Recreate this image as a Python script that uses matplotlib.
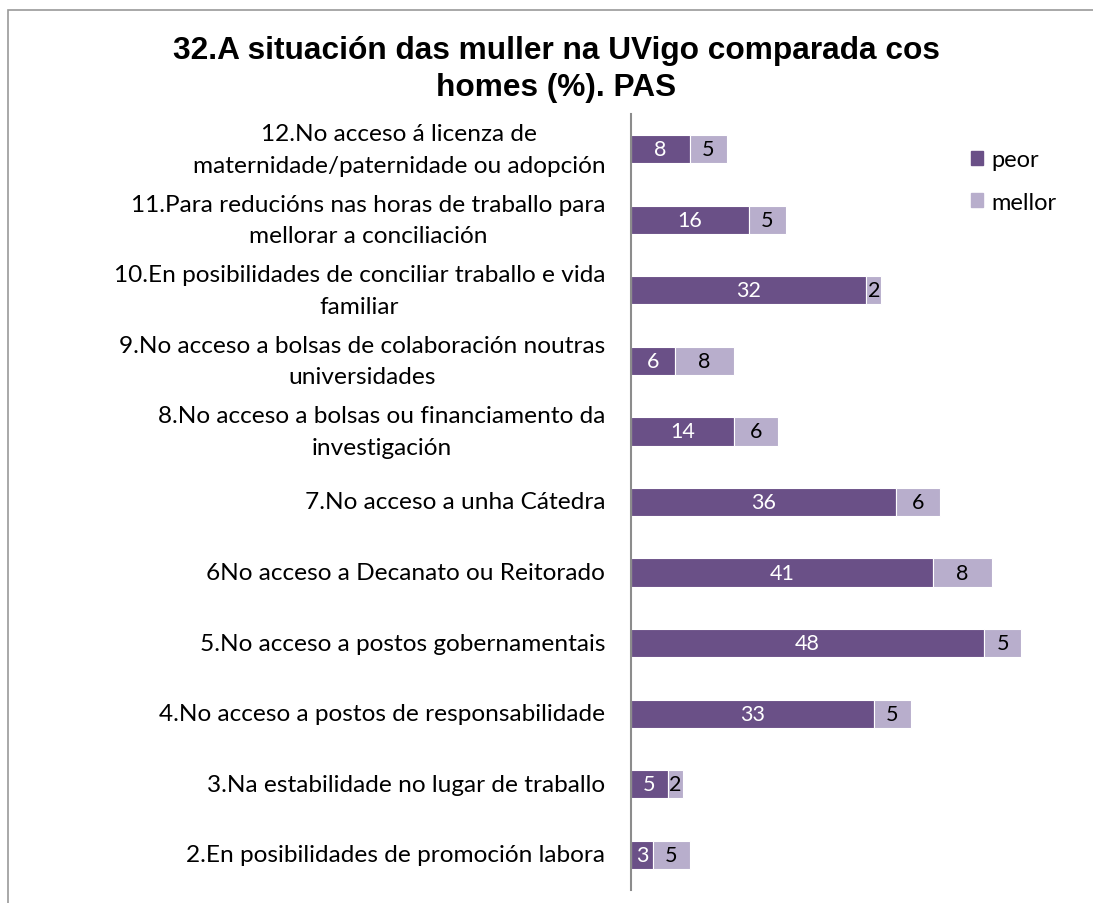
import matplotlib
matplotlib.use('Agg')
import matplotlib.pyplot as plt
from matplotlib.patches import Rectangle, Patch
import numpy as np

# categories, bottom to top
labels = ['2.En posibilidades de promoción labora',
          '3.Na estabilidade no lugar de traballo',
          '4.No acceso a postos de responsabilidade',
          '5.No acceso a postos gobernamentais',
          '6No acceso a Decanato ou Reitorado',
          '7.No acceso a unha Cátedra',
          '8.No acceso a bolsas ou financiamento da\ninvestigación',
          '9.No acceso a bolsas de colaboración noutras\nuniversidades',
          '10.En posibilidades de conciliar traballo e vida\nfamiliar',
          '11.Para reducións nas horas de traballo para\nmellorar a conciliación',
          '12.No acceso á licenza de\nmaternidade/paternidade ou adopción']
peor = [3, 5, 33, 48, 41, 36, 14, 6, 32, 16, 8]
mellor = [5, 2, 5, 5, 8, 6, 6, 8, 2, 5, 5]

c_peor = '#6A5087'
c_mellor = '#B8AECC'
font = 'Lato'

fig = plt.figure(figsize=(10.93, 9.04), dpi=100)
# light frame around the chart area
fig.patches.append(Rectangle((8 / 1093, -0.05), 1.1, (904 - 11) / 904 + 0.05,
                             transform=fig.transFigure, fill=False,
                             edgecolor='#9a9a9a', lw=1.2))

ax = fig.add_axes([631 / 1093, 13 / 904, 441.5 / 1093, 776 / 904])
y = np.arange(len(labels))
ax.barh(y, peor, height=0.4, color=c_peor, edgecolor='white', lw=0.8, label='peor')
ax.barh(y, mellor, left=peor, height=0.4, color=c_mellor, edgecolor='white', lw=0.8, label='mellor')

for i in range(len(labels)):
    ax.text(peor[i] / 2, y[i], str(peor[i]), ha='center', va='center',
            color='white', fontsize=15.5, family=font)
    ax.text(peor[i] + mellor[i] / 2, y[i], str(mellor[i]), ha='center', va='center',
            color='black', fontsize=15.5, family=font)

ax.set_xlim(0, 60)
ax.set_ylim(-0.5, len(labels) - 0.5)
for s in ['top', 'right', 'bottom']:
    ax.spines[s].set_visible(False)
ax.spines['left'].set_color('#8c8c8c')
ax.spines['left'].set_linewidth(1.5)
ax.set_xticks([])
ax.set_yticks([])

# category labels, centred multi-line blocks right of the axis
for i, lab in enumerate(labels):
    ax.text(-3.5, y[i], lab, ha='right', va='center', multialignment='center',
            fontsize=17.6, family=font, linespacing=1.62)

fig.text(0.509, 0.923, '32.A situación das muller na UVigo comparada cos\nhomes (%). PAS',
         ha='center', va='center', fontsize=22.8, fontweight='bold',
         family='Liberation Sans', linespacing=1.32)

handles = [Patch(color=c_peor, label='peor'), Patch(color=c_mellor, label='mellor')]
fig.legend(handles=handles, loc='upper left', bbox_to_anchor=(950 / 1093, 1 - 129 / 904),
           frameon=False, prop={'family': font, 'size': 17},
           handlelength=0.5, handleheight=0.5, handletextpad=0.35, labelspacing=0.9)

fig.savefig('out.png', dpi=100)
